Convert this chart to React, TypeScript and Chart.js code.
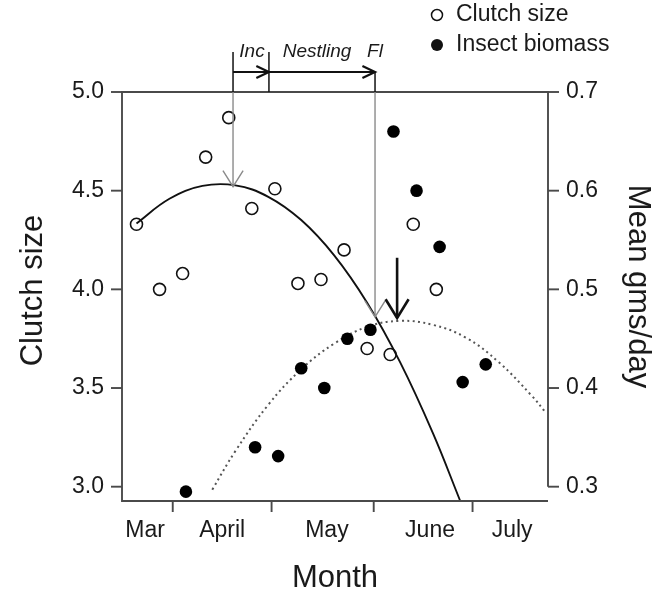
import React, { useEffect, useRef } from "react";
import { Chart, registerables } from "chart.js";

Chart.register(...registerables);

// ---- data (x in day-of-year) ----
const monthLabels = ["Mar", "April", "May", "June", "July"];
const monthLabelDays = [82.6, 106, 137.8, 169.1, 194];
const monthTickDays = [91, 121, 152, 182];
const clutchTicks = [3.0, 3.5, 4.0, 4.5, 5.0];
const biomassTicks = [0.3, 0.4, 0.5, 0.6, 0.7];

const clutchDays = [80, 87, 94, 101, 108, 115, 122, 129, 136, 143, 150, 157, 164, 171];
const clutchSize = [4.33, 4.0, 4.08, 4.67, 4.87, 4.41, 4.51, 4.03, 4.05, 4.2, 3.7, 3.67, 4.33, 4.0];

const biomassDays = [95, 116, 123, 130, 137, 144, 151, 158, 165, 172, 179, 186];
const insectBiomass = [0.295, 0.34, 0.331, 0.42, 0.4, 0.45, 0.459, 0.66, 0.6, 0.543, 0.406, 0.424];

const clutchFitDays = [80, 90, 100, 110, 120, 130, 140, 150, 160, 170, 178.2];
const clutchFit = [4.334, 4.459, 4.524, 4.527, 4.469, 4.351, 4.172, 3.932, 3.631, 3.27, 2.93];

const biomassFitDays = [103, 110, 120, 130, 140, 150, 160, 170, 180, 190, 200, 204];
const biomassFit = [0.297, 0.336, 0.383, 0.419, 0.445, 0.462, 0.468, 0.464, 0.451, 0.426, 0.392, 0.376];

// annotation anchors (data units)
const incubationStart = 109.3;
const nestlingStart = 120.2;
const fledging = 152.4;
const clutchPeakValue = 4.52;
const fledgingClutchValue = 3.86;
const biomassPeakDay = 159.1;
const biomassArrowFrom = 0.532;
const biomassArrowTo = 0.471;

const FONT = '"Liberation Sans", Arial, Helvetica, sans-serif';

function toXY(xs: number[], ys: number[]) {
  return xs.map((x, i) => ({ x, y: ys[i] }));
}

function seg(ctx: CanvasRenderingContext2D, x1: number, y1: number, x2: number, y2: number) {
  ctx.beginPath();
  ctx.moveTo(x1, y1);
  ctx.lineTo(x2, y2);
  ctx.stroke();
}

function openHead(
  ctx: CanvasRenderingContext2D,
  tx: number,
  ty: number,
  angle: number,
  len: number,
  spread: number
) {
  const a1 = angle + Math.PI - spread;
  const a2 = angle + Math.PI + spread;
  ctx.beginPath();
  ctx.moveTo(tx + len * Math.cos(a1), ty + len * Math.sin(a1));
  ctx.lineTo(tx, ty);
  ctx.lineTo(tx + len * Math.cos(a2), ty + len * Math.sin(a2));
  ctx.stroke();
}

const decorPlugin = {
  id: "decor",
  afterDatasetsDraw(chart: any) {
    const ctx: CanvasRenderingContext2D = chart.ctx;
    const { left, right, top, bottom } = chart.chartArea;
    const xs = chart.scales.x;
    const ys = chart.scales.y;
    const y1 = chart.scales.y1;
    ctx.save();

    // axes
    ctx.strokeStyle = "#4a4a4a";
    ctx.lineWidth = 1.9;
    ctx.lineCap = "butt";
    seg(ctx, left, top, right, top);
    seg(ctx, left, top - 0.9, left, bottom + 0.9);
    seg(ctx, left, bottom, right, bottom);
    const y03 = y1.getPixelForValue(biomassTicks[0]);
    seg(ctx, right, top - 0.9, right, y03);

    ctx.fillStyle = "#1a1a1a";
    ctx.font = `23px ${FONT}`;
    ctx.textBaseline = "middle";

    // left ticks
    ctx.textAlign = "right";
    clutchTicks.forEach((v) => {
      const py = ys.getPixelForValue(v);
      seg(ctx, left - 11, py, left, py);
      ctx.fillText(v.toFixed(1), left - 18, py);
    });
    // right ticks
    ctx.textAlign = "left";
    biomassTicks.forEach((v) => {
      const py = y1.getPixelForValue(v);
      seg(ctx, right, py, right + 11, py);
      ctx.fillText(v.toFixed(1), right + 18, py);
    });
    // bottom ticks
    monthTickDays.forEach((d) => {
      const px = xs.getPixelForValue(d);
      seg(ctx, px, bottom, px, bottom + 11);
    });
    ctx.textAlign = "center";
    monthLabels.forEach((m, i) => {
      ctx.fillText(m, xs.getPixelForValue(monthLabelDays[i]), bottom + 30);
    });

    // titles
    ctx.font = `31px ${FONT}`;
    ctx.fillText("Month", (left + right) / 2, bottom + 77);
    ctx.save();
    ctx.translate(33, (top + bottom) / 2 - 6);
    ctx.rotate(-Math.PI / 2);
    ctx.fillText("Clutch size", 0, 0);
    ctx.restore();
    ctx.save();
    ctx.translate(638, (top + bottom) / 2 - 10);
    ctx.rotate(Math.PI / 2);
    ctx.fillText("Mean gms/day", 0, 0);
    ctx.restore();

    // annotations
    const xInc = xs.getPixelForValue(incubationStart);
    const xNest = xs.getPixelForValue(nestlingStart);
    const xFl = xs.getPixelForValue(fledging);
    const yTopLine = top - 40;
    const yArrow = top - 20;
    ctx.strokeStyle = "#111";
    ctx.lineWidth = 1.5;
    seg(ctx, xInc, yTopLine, xInc, top);
    seg(ctx, xNest, yTopLine, xNest, top);
    seg(ctx, xFl, yArrow, xFl, top);
    ctx.lineWidth = 2.2;
    seg(ctx, xInc, yArrow, xNest, yArrow);
    seg(ctx, xNest, yArrow, xFl, yArrow);
    openHead(ctx, xNest, yArrow, 0, 14, 0.45);
    openHead(ctx, xFl, yArrow, 0, 14, 0.45);

    ctx.font = `italic 19px ${FONT}`;
    ctx.fillStyle = "#1a1a1a";
    ctx.textBaseline = "middle";
    ctx.textAlign = "center";
    ctx.fillText("Inc", (xInc + xNest) / 2 + 1, top - 40);
    ctx.fillText("Nestling", 317, top - 40);
    ctx.fillText("Fl", xFl, top - 40);

    // gray drop arrows
    ctx.strokeStyle = "#8a8a8a";
    ctx.lineWidth = 1.4;
    const tip1 = ys.getPixelForValue(clutchPeakValue);
    seg(ctx, xInc, top, xInc, tip1);
    openHead(ctx, xInc, tip1, Math.PI / 2, 19, 0.56);
    const tip2 = ys.getPixelForValue(fledgingClutchValue);
    seg(ctx, xFl, top, xFl, tip2);
    openHead(ctx, xFl, tip2, Math.PI / 2, 19, 0.56);

    // black arrow at biomass peak
    const xb = xs.getPixelForValue(biomassPeakDay);
    const yb1 = y1.getPixelForValue(biomassArrowFrom);
    const yb2 = y1.getPixelForValue(biomassArrowTo);
    ctx.strokeStyle = "#111";
    ctx.lineWidth = 2.6;
    seg(ctx, xb, yb1, xb, yb2);
    openHead(ctx, xb, yb2, Math.PI / 2, 22, 0.55);

    // legend
    ctx.lineWidth = 1.5;
    ctx.strokeStyle = "#111";
    ctx.fillStyle = "#111";
    ctx.beginPath();
    ctx.arc(437, 15, 5.5, 0, Math.PI * 2);
    ctx.stroke();
    ctx.beginPath();
    ctx.arc(437, 45, 6, 0, Math.PI * 2);
    ctx.fill();
    ctx.font = `23px ${FONT}`;
    ctx.textAlign = "left";
    ctx.fillStyle = "#1a1a1a";
    ctx.fillText("Clutch size", 456, 15);
    ctx.fillText("Insect biomass", 456, 45);

    ctx.restore();
  },
};

export default function App() {
  const ref = useRef<HTMLCanvasElement | null>(null);
  useEffect(() => {
    if (!ref.current) return;
    const chart = new Chart(ref.current, {
      type: "scatter",
      data: {
        datasets: [
          {
            label: "Clutch size",
            data: toXY(clutchDays, clutchSize),
            yAxisID: "y",
            pointRadius: 6,
            pointBorderWidth: 1.6,
            pointBorderColor: "#111",
            pointBackgroundColor: "rgba(0,0,0,0)",
            showLine: false,
          },
          {
            label: "Insect biomass",
            data: toXY(biomassDays, insectBiomass),
            yAxisID: "y1",
            pointRadius: 6.3,
            pointBorderWidth: 0,
            pointBorderColor: "#000",
            pointBackgroundColor: "#000",
            showLine: false,
          },
          {
            label: "Clutch fit",
            data: toXY(clutchFitDays, clutchFit),
            yAxisID: "y",
            showLine: true,
            pointRadius: 0,
            borderColor: "#111",
            borderWidth: 1.9,
            tension: 0.4,
            fill: false,
          },
          {
            label: "Biomass fit",
            data: toXY(biomassFitDays, biomassFit),
            yAxisID: "y1",
            showLine: true,
            pointRadius: 0,
            borderColor: "#555",
            borderWidth: 2,
            borderDash: [2, 3.4],
            tension: 0.4,
            fill: false,
          },
        ],
      },
      options: {
        animation: false,
        responsive: false,
        devicePixelRatio: 1,
        layout: { padding: { left: 122, right: 117, top: 92, bottom: 90 } },
        plugins: { legend: { display: false }, tooltip: { enabled: false } },
        scales: {
          x: { type: "linear", min: 75.6, max: 204.9, display: false },
          y: { type: "linear", min: 2.9275, max: 5.0, display: false },
          y1: { type: "linear", min: 0.2855, max: 0.7, display: false, position: "right" },
        },
      },
      plugins: [decorPlugin],
    });
    return () => chart.destroy();
  }, []);
  return (
    <div style={{ position: "absolute", left: 0, top: 0, width: 665, height: 591, background: "#fff" }}>
      <canvas ref={ref} width={665} height={591} style={{ display: "block" }} />
    </div>
  );
}
